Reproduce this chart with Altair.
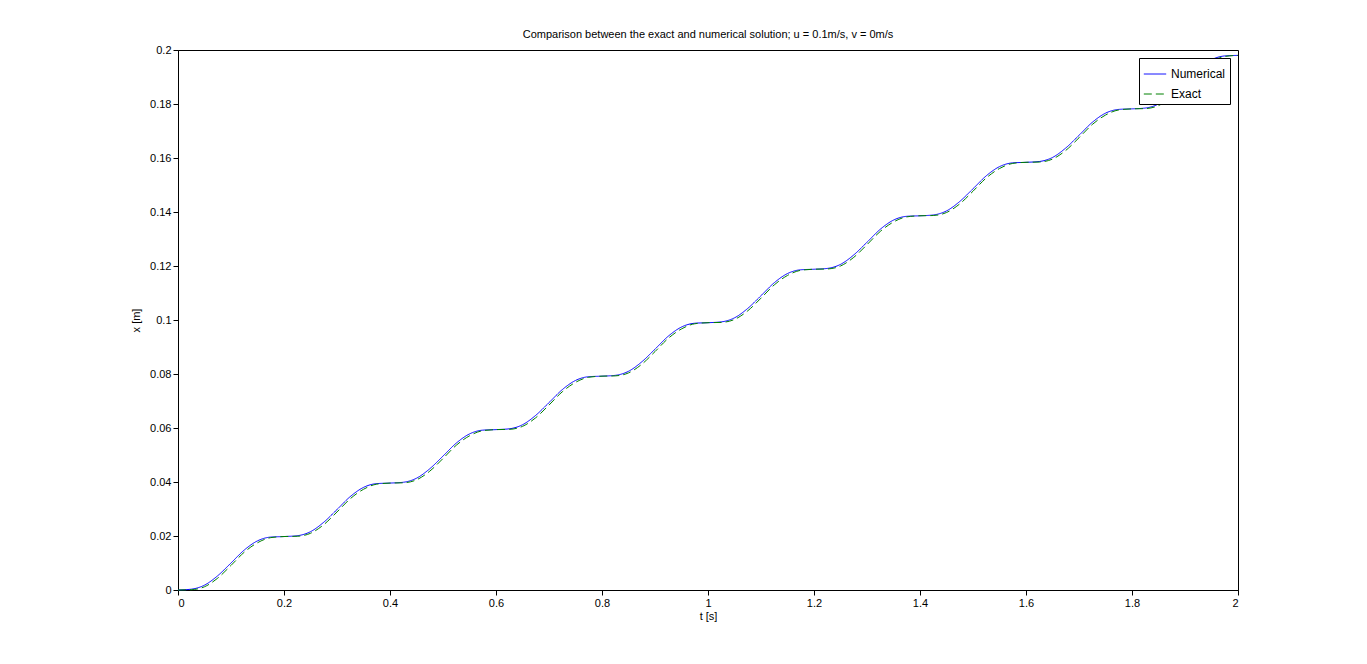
import altair as alt
import pandas as pd

# time samples every 0.025 s, 0 .. 2 s
t = [round(i * 0.025, 3) for i in range(81)]

# values (one row per 0.2 s period)
numerical = [
    0.0000, 0.0003, 0.0018, 0.0053, 0.0100, 0.0148, 0.0182, 0.0196,
    0.0198, 0.0201, 0.0216, 0.0251, 0.0298, 0.0346, 0.0380, 0.0394,
    0.0396, 0.0399, 0.0414, 0.0449, 0.0496, 0.0544, 0.0578, 0.0592,
    0.0594, 0.0597, 0.0612, 0.0647, 0.0694, 0.0742, 0.0776, 0.0790,
    0.0792, 0.0795, 0.0810, 0.0845, 0.0892, 0.0940, 0.0974, 0.0988,
    0.0990, 0.0993, 0.1008, 0.1043, 0.1090, 0.1138, 0.1172, 0.1186,
    0.1188, 0.1191, 0.1206, 0.1241, 0.1288, 0.1336, 0.1370, 0.1384,
    0.1386, 0.1389, 0.1404, 0.1439, 0.1486, 0.1534, 0.1568, 0.1582,
    0.1584, 0.1587, 0.1602, 0.1637, 0.1684, 0.1732, 0.1766, 0.1780,
    0.1782, 0.1785, 0.1800, 0.1835, 0.1882, 0.1930, 0.1964, 0.1978,
    0.1980,
]
exact = [
    0.0000, 0.0001, 0.0012, 0.0044, 0.0091, 0.0140, 0.0175, 0.0194,
    0.0198, 0.0199, 0.0210, 0.0242, 0.0289, 0.0338, 0.0373, 0.0392,
    0.0396, 0.0397, 0.0408, 0.0440, 0.0487, 0.0536, 0.0571, 0.0590,
    0.0594, 0.0595, 0.0606, 0.0638, 0.0685, 0.0734, 0.0769, 0.0788,
    0.0792, 0.0793, 0.0804, 0.0836, 0.0883, 0.0932, 0.0967, 0.0986,
    0.0990, 0.0991, 0.1002, 0.1034, 0.1081, 0.1130, 0.1165, 0.1184,
    0.1188, 0.1189, 0.1200, 0.1232, 0.1279, 0.1328, 0.1363, 0.1382,
    0.1386, 0.1387, 0.1398, 0.1430, 0.1477, 0.1526, 0.1561, 0.1580,
    0.1584, 0.1585, 0.1596, 0.1628, 0.1675, 0.1724, 0.1759, 0.1778,
    0.1782, 0.1783, 0.1794, 0.1826, 0.1873, 0.1922, 0.1957, 0.1976,
    0.1980,
]

df = pd.concat([
    pd.DataFrame({"t": t, "x": numerical, "series": "Numerical"}),
    pd.DataFrame({"t": t, "x": exact, "series": "Exact"}),
])

ax = dict(grid=False, domainColor="black", tickColor="black", labelColor="black",
          titleColor="black", labelFont="Liberation Sans", titleFont="Liberation Sans",
          labelFontSize=11, titleFontSize=11, titleFontWeight="normal", tickSize=5, format="~g")

chart = (
    alt.Chart(df)
    .mark_line(strokeWidth=1, interpolate="monotone")
    .encode(
        x=alt.X("t:Q", title="t [s]", scale=alt.Scale(domain=[0, 2], nice=False),
                axis=alt.Axis(values=[0, 0.2, 0.4, 0.6, 0.8, 1, 1.2, 1.4, 1.6, 1.8, 2], titlePadding=2, **ax)),
        y=alt.Y("x:Q", title="x [m]", scale=alt.Scale(domain=[0, 0.2], nice=False),
                axis=alt.Axis(values=[i / 50 for i in range(11)], titlePadding=8, **ax)),
        color=alt.Color("series:N", sort=["Numerical", "Exact"],
                        scale=alt.Scale(domain=["Numerical", "Exact"], range=["#0000ff", "#008000"]),
                        legend=alt.Legend(title=None, orient="top-right", offset=8,
                                          strokeColor="black", fillColor="white", padding=4,
                                          symbolType="stroke", symbolSize=500, symbolStrokeWidth=1,
                                          rowPadding=2, symbolOpacity=1,
                                          labelFont="Liberation Sans", labelFontSize=12, labelColor="black")),
        strokeDash=alt.StrokeDash("series:N", sort=["Numerical", "Exact"],
                                  scale=alt.Scale(domain=["Numerical", "Exact"], range=[[1, 0], [8, 4]]),
                                  legend=None),
    )
    .properties(
        width=1060, height=540,
        autosize=alt.AutoSizeParams(type="none"),
        padding={"left": 170, "top": 42, "right": 120, "bottom": 60},
        title=alt.Title("Comparison between the exact and numerical solution; u = 0.1m/s, v = 0m/s",
                        font="Liberation Sans", fontSize=11, fontWeight="normal", color="black", offset=4),
    )
    .configure_view(stroke="black", strokeWidth=1)
)

chart.save("out.html", embed_options={"renderer": "svg", "actions": False})
